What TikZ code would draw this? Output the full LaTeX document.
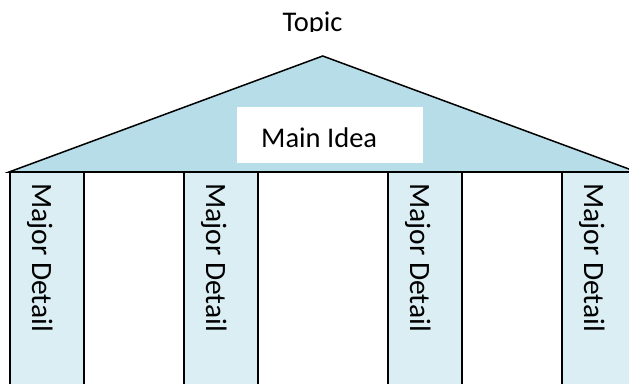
\documentclass[tikz,border=0pt]{standalone}
\usepackage{fontspec}
\setmainfont{Carlito}
\definecolor{roofblue}{HTML}{B7DDE8}
\definecolor{pillarblue}{HTML}{DAEEF3}
\begin{document}
\begin{tikzpicture}[x=1pt,y=-1pt,
  txt/.style={font=\fontsize{28.5}{30}\selectfont, inner sep=0pt, text=black},
  vtxt/.style={font=\fontsize{29.5}{31}\selectfont, inner sep=0pt, text=black, rotate=-90, anchor=base west},
  pillarbox/.style={draw=black, line width=1.8pt, fill=pillarblue},
  gapline/.style={draw=black, line width=1.8pt}]
\useasboundingbox (0,0) rectangle (629,383);
\begin{scope}
\clip (0,0) rectangle (629,383);
% roof
\coordinate (apex) at (322.7,56);
\coordinate (bl) at (9,172);
\coordinate (br) at (637,172);
\draw[fill=roofblue, line width=1.5pt, line join=miter] (bl) -- (apex) -- (br) -- cycle;
% main idea box
\fill[white] (237,107) rectangle (423,163);
\node[txt, anchor=base west] (main) at (261,147) {Main Idea};
% pillars
\foreach \l/\n in {10/p1,184/p2,388/p3,562/p4}{
  \draw[pillarbox] (\l,172) rectangle (\l+74,400);
  \node[vtxt] (\n) at (\l+22,183) {Major Detail};
}
\draw[gapline] (bl) -- (br);
\end{scope}
% topic, clipped below its baseline
\begin{scope}
\clip (0,0) rectangle (629,31);
\node[txt, anchor=base] (topic) at (312.5,31) {Topic};
\end{scope}
\end{tikzpicture}
\end{document}
